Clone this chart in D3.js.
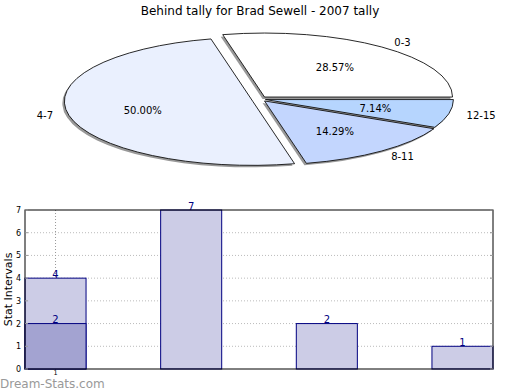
<!DOCTYPE html>
<html>
<head>
<meta charset="utf-8">
<script src="https://cdn.jsdelivr.net/npm/d3@7"></script>
<style>
  body { margin: 0; background: #fff; }
  text { font-family: "DejaVu Sans", sans-serif; }
</style>
</head>
<body>
<div id="chart"></div>
<script>
// data
let title = "Behind tally for Brad Sewell - 2007 tally";
let categories = ["0-3", "4-7", "8-11", "12-15"];
let counts = [4, 7, 2, 1];
let overlayValues = [2];          // darker bar drawn over the first category
let pieColors = ["#ffffff", "#eaf0fe", "#c3d6fe", "#b6d5fe"];
let explode = [2.5, 10.5, 2.5, 2.5];
let yTicks = [0, 1, 2, 3, 4, 5, 6, 7];
let xTickLabels = ["1"];

let w = 520, h = 390;
let svg = d3.select("#chart").append("svg").attr("width", w).attr("height", h);

svg.append("text").attr("x", 260).attr("y", 15).attr("text-anchor", "middle")
  .style("font-size", "12px").text(title);

// ---- elliptical pie ----
let cx = 263, cy = 99, rx = 188, ry = 64;
let pie = d3.pie().sort(null).startAngle(Math.PI / 2).endAngle(Math.PI / 2 - 2 * Math.PI);
let arcs = pie(counts);
let arc = d3.arc().innerRadius(0).outerRadius(rx);
let total = d3.sum(counts);

function offset(d, i) {
  let m = (d.startAngle + d.endAngle) / 2;
  return [explode[i] * Math.sin(m), -explode[i] * Math.cos(m)];
}

let pieG = svg.append("g");
// shadows first
pieG.selectAll(".shadow").data(arcs).enter().append("g")
  .attr("transform", (d, i) => {
    let o = offset(d, i);
    return `translate(${cx + o[0] - 2},${cy + o[1] + 2}) scale(1,${ry / rx})`;
  })
  .append("path").attr("d", arc).attr("fill", "#999");

pieG.selectAll(".slice").data(arcs).enter().append("g")
  .attr("transform", (d, i) => {
    let o = offset(d, i);
    return `translate(${cx + o[0]},${cy + o[1]}) scale(1,${ry / rx})`;
  })
  .append("path").attr("d", arc)
  .attr("fill", (d, i) => pieColors[i])
  .attr("stroke", "#111").attr("stroke-width", 0.9)
  .attr("vector-effect", "non-scaling-stroke");

// percent labels
pieG.selectAll(".pct").data(arcs).enter().append("text")
  .attr("x", (d, i) => {
    let m = (d.startAngle + d.endAngle) / 2;
    return cx + offset(d, i)[0] + rx * 0.6 * Math.sin(m);
  })
  .attr("y", (d, i) => {
    let m = (d.startAngle + d.endAngle) / 2;
    return cy + offset(d, i)[1] - ry * 0.6 * Math.cos(m) + 4;
  })
  .attr("text-anchor", "middle").style("font-size", "10px")
  .text(d => (d.value / total * 100).toFixed(2) + "%");

// category labels
pieG.selectAll(".lab").data(arcs).enter().append("text")
  .attr("x", d => cx + rx * 1.19 * Math.sin((d.startAngle + d.endAngle) / 2))
  .attr("y", d => cy - ry * 1.13 * Math.cos((d.startAngle + d.endAngle) / 2) + 4)
  .attr("text-anchor", "middle").style("font-size", "10px")
  .text((d, i) => categories[i]);

// ---- bar chart ----
let plotLeft = 25, plotRight = 493, plotTop = 210, plotBottom = 369;
let x = d3.scaleBand().domain(categories).range([plotLeft, plotRight]).paddingInner(0.55).paddingOuter(0);
let y = d3.scaleLinear().domain([0, 7]).range([plotBottom, plotTop]);

let barG = svg.append("g");

// grid
barG.selectAll(".hgrid").data(yTicks.filter(t => t > 0 && t < 7)).enter().append("line")
  .attr("x1", plotLeft).attr("x2", plotRight).attr("y1", d => y(d)).attr("y2", d => y(d))
  .attr("stroke", "#bbb").attr("stroke-dasharray", "1,2");
barG.append("line")
  .attr("x1", x(categories[0]) + x.bandwidth() / 2).attr("x2", x(categories[0]) + x.bandwidth() / 2)
  .attr("y1", plotTop).attr("y2", plotBottom + 3)
  .attr("stroke", "#999").attr("stroke-dasharray", "1,2");

// bars
barG.selectAll(".bar").data(counts).enter().append("rect")
  .attr("x", (d, i) => x(categories[i])).attr("width", x.bandwidth())
  .attr("y", d => y(d)).attr("height", d => y(0) - y(d))
  .attr("fill", "#ccccE6").attr("stroke", "#000080").attr("stroke-width", 1);

barG.selectAll(".overlay").data(overlayValues).enter().append("rect")
  .attr("x", (d, i) => x(categories[i])).attr("width", x.bandwidth())
  .attr("y", d => y(d)).attr("height", d => y(0) - y(d))
  .attr("fill", "#a3a3d1").attr("stroke", "#000080").attr("stroke-width", 1);

// value labels
barG.selectAll(".val").data(counts).enter().append("text")
  .attr("x", (d, i) => x(categories[i]) + x.bandwidth() / 2).attr("y", d => y(d) - 0.5)
  .attr("text-anchor", "middle").attr("fill", "#000080").style("font-size", "10px")
  .text(d => d);
barG.selectAll(".oval").data(overlayValues).enter().append("text")
  .attr("x", (d, i) => x(categories[i]) + x.bandwidth() / 2).attr("y", d => y(d) - 0.5)
  .attr("text-anchor", "middle").attr("fill", "#000080").style("font-size", "10px")
  .text(d => d);

// frame
barG.append("rect").attr("x", plotLeft).attr("y", plotTop)
  .attr("width", plotRight - plotLeft).attr("height", plotBottom - plotTop)
  .attr("fill", "none").attr("stroke", "#000").attr("stroke-width", 1);

// y axis ticks and labels
barG.selectAll(".ytl").data(yTicks).enter().append("text")
  .attr("x", 21).attr("y", d => y(d) + 3).attr("text-anchor", "end")
  .style("font-size", "8px").text(d => d);
barG.selectAll(".ytk").data(yTicks).enter().append("line")
  .attr("x1", plotLeft).attr("x2", plotLeft + 3).attr("y1", d => y(d)).attr("y2", d => y(d))
  .attr("stroke", "#999");
barG.selectAll(".ytkr").data(yTicks).enter().append("line")
  .attr("x1", plotRight - 3).attr("x2", plotRight).attr("y1", d => y(d)).attr("y2", d => y(d))
  .attr("stroke", "#999");

barG.selectAll(".xtl").data(xTickLabels).enter().append("text")
  .attr("x", (d, i) => x(categories[i]) + x.bandwidth() / 2).attr("y", plotBottom + 6)
  .attr("text-anchor", "middle").style("font-size", "6.5px").text(d => d);

barG.append("text").attr("transform", `translate(12,${(plotTop + plotBottom) / 2}) rotate(-90)`)
  .attr("text-anchor", "middle").style("font-size", "11px").text("Stat Intervals");

// watermark
svg.append("text").attr("x", 0).attr("y", 388).attr("fill", "#999")
  .style("font-size", "12px").text("Dream-Stats.com");
</script>
</body>
</html>
